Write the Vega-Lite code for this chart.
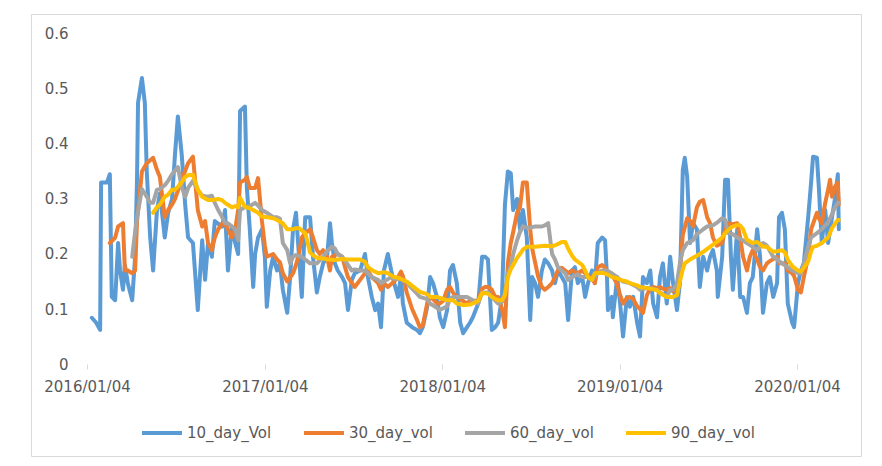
{
"$schema": "https://vega.github.io/schema/vega-lite/v6.json",
"width": 830, "height": 442,
"autosize": {"type": "none"},
"padding": {"left": 31, "top": 14, "right": 21, "bottom": 10},
"background": "white",
"config": {"view": {"stroke": "#d9d9d9", "strokeWidth": 1}, "font": "DejaVu Sans"},
"datasets": {
"vol10": [
{"date":"2016-01-14","v":0.084},{"date":"2016-01-23","v":0.075},{"date":"2016-01-31","v":0.062},{"date":"2016-02-02","v":0.33},{"date":"2016-02-14","v":0.33},{"date":"2016-02-20","v":0.345},{"date":"2016-02-24","v":0.122},{"date":"2016-03-02","v":0.116},{"date":"2016-03-08","v":0.22},{"date":"2016-03-12","v":0.17},{"date":"2016-03-18","v":0.135},{"date":"2016-03-22","v":0.18},{"date":"2016-03-28","v":0.147},{"date":"2016-04-06","v":0.116},{"date":"2016-04-12","v":0.195},{"date":"2016-04-16","v":0.34},{"date":"2016-04-18","v":0.475},{"date":"2016-04-26","v":0.52},{"date":"2016-05-02","v":0.475},{"date":"2016-05-06","v":0.35},{"date":"2016-05-13","v":0.23},{"date":"2016-05-19","v":0.17},{"date":"2016-05-27","v":0.28},{"date":"2016-06-02","v":0.31},{"date":"2016-06-12","v":0.23},{"date":"2016-06-19","v":0.275},{"date":"2016-06-27","v":0.30},{"date":"2016-07-03","v":0.38},{"date":"2016-07-09","v":0.45},{"date":"2016-07-17","v":0.38},{"date":"2016-07-24","v":0.29},{"date":"2016-07-30","v":0.23},{"date":"2016-08-09","v":0.22},{"date":"2016-08-19","v":0.098},{"date":"2016-08-28","v":0.225},{"date":"2016-09-03","v":0.153},{"date":"2016-09-09","v":0.22},{"date":"2016-09-17","v":0.195},{"date":"2016-09-23","v":0.26},{"date":"2016-09-30","v":0.255},{"date":"2016-10-08","v":0.25},{"date":"2016-10-14","v":0.28},{"date":"2016-10-20","v":0.17},{"date":"2016-10-28","v":0.25},{"date":"2016-11-04","v":0.22},{"date":"2016-11-10","v":0.20},{"date":"2016-11-14","v":0.46},{"date":"2016-11-24","v":0.468},{"date":"2016-11-28","v":0.32},{"date":"2016-12-04","v":0.245},{"date":"2016-12-11","v":0.14},{"date":"2016-12-15","v":0.20},{"date":"2016-12-21","v":0.23},{"date":"2016-12-29","v":0.245},
{"date":"2017-01-04","v":0.195},{"date":"2017-01-08","v":0.104},{"date":"2017-01-15","v":0.17},{"date":"2017-01-21","v":0.195},{"date":"2017-01-29","v":0.17},{"date":"2017-02-04","v":0.183},{"date":"2017-02-10","v":0.135},{"date":"2017-02-19","v":0.093},{"date":"2017-02-25","v":0.158},{"date":"2017-03-03","v":0.245},{"date":"2017-03-09","v":0.275},{"date":"2017-03-15","v":0.2},{"date":"2017-03-21","v":0.122},{"date":"2017-03-28","v":0.267},{"date":"2017-04-07","v":0.267},{"date":"2017-04-13","v":0.195},{"date":"2017-04-21","v":0.13},{"date":"2017-04-27","v":0.158},{"date":"2017-05-04","v":0.183},{"date":"2017-05-12","v":0.195},{"date":"2017-05-18","v":0.256},{"date":"2017-05-22","v":0.22},{"date":"2017-05-28","v":0.183},{"date":"2017-06-03","v":0.17},{"date":"2017-06-12","v":0.158},{"date":"2017-06-18","v":0.147},{"date":"2017-06-24","v":0.098},{"date":"2017-07-02","v":0.153},{"date":"2017-07-08","v":0.165},{"date":"2017-07-19","v":0.17},{"date":"2017-07-29","v":0.20},{"date":"2017-08-04","v":0.158},{"date":"2017-08-12","v":0.122},{"date":"2017-08-19","v":0.098},{"date":"2017-08-25","v":0.11},{"date":"2017-08-31","v":0.067},{"date":"2017-09-06","v":0.17},{"date":"2017-09-14","v":0.20},{"date":"2017-09-21","v":0.17},{"date":"2017-09-27","v":0.147},{"date":"2017-10-05","v":0.122},{"date":"2017-10-11","v":0.16},{"date":"2017-10-15","v":0.11},{"date":"2017-10-23","v":0.075},{"date":"2017-11-03","v":0.067},{"date":"2017-11-13","v":0.062},{"date":"2017-11-19","v":0.056},{"date":"2017-11-25","v":0.067},{"date":"2017-12-04","v":0.104},{"date":"2017-12-10","v":0.158},{"date":"2017-12-16","v":0.147},{"date":"2017-12-24","v":0.122},{"date":"2017-12-30","v":0.085},
{"date":"2018-01-06","v":0.067},{"date":"2018-01-14","v":0.098},{"date":"2018-01-20","v":0.17},{"date":"2018-01-26","v":0.18},{"date":"2018-02-03","v":0.147},{"date":"2018-02-10","v":0.075},{"date":"2018-02-16","v":0.056},{"date":"2018-02-24","v":0.067},{"date":"2018-03-02","v":0.075},{"date":"2018-03-08","v":0.085},{"date":"2018-03-19","v":0.11},{"date":"2018-03-27","v":0.195},{"date":"2018-04-02","v":0.195},{"date":"2018-04-08","v":0.19},{"date":"2018-04-16","v":0.062},{"date":"2018-04-23","v":0.067},{"date":"2018-04-29","v":0.075},{"date":"2018-05-07","v":0.122},{"date":"2018-05-13","v":0.29},{"date":"2018-05-19","v":0.35},{"date":"2018-05-25","v":0.347},{"date":"2018-05-30","v":0.28},{"date":"2018-06-07","v":0.30},{"date":"2018-06-13","v":0.245},{"date":"2018-06-19","v":0.28},{"date":"2018-06-27","v":0.23},{"date":"2018-07-04","v":0.08},{"date":"2018-07-08","v":0.158},{"date":"2018-07-14","v":0.147},{"date":"2018-07-20","v":0.122},{"date":"2018-07-28","v":0.17},{"date":"2018-08-03","v":0.19},{"date":"2018-08-10","v":0.183},{"date":"2018-08-18","v":0.17},{"date":"2018-08-24","v":0.147},{"date":"2018-08-30","v":0.17},{"date":"2018-09-07","v":0.158},{"date":"2018-09-14","v":0.147},{"date":"2018-09-20","v":0.08},{"date":"2018-09-28","v":0.17},{"date":"2018-10-04","v":0.176},{"date":"2018-10-10","v":0.147},{"date":"2018-10-19","v":0.158},{"date":"2018-10-25","v":0.122},{"date":"2018-10-31","v":0.147},{"date":"2018-11-08","v":0.17},{"date":"2018-11-14","v":0.147},{"date":"2018-11-20","v":0.22},{"date":"2018-11-29","v":0.23},{"date":"2018-12-05","v":0.225},{"date":"2018-12-09","v":0.158},{"date":"2018-12-11","v":0.098},{"date":"2018-12-19","v":0.122},{"date":"2018-12-21","v":0.085},{"date":"2018-12-30","v":0.158},
{"date":"2019-01-05","v":0.11},{"date":"2019-01-11","v":0.05},{"date":"2019-01-19","v":0.122},{"date":"2019-01-25","v":0.104},{"date":"2019-02-01","v":0.122},{"date":"2019-02-09","v":0.075},{"date":"2019-02-15","v":0.05},{"date":"2019-02-21","v":0.158},{"date":"2019-03-01","v":0.147},{"date":"2019-03-08","v":0.17},{"date":"2019-03-14","v":0.11},{"date":"2019-03-22","v":0.085},{"date":"2019-03-28","v":0.158},{"date":"2019-04-03","v":0.183},{"date":"2019-04-11","v":0.11},{"date":"2019-04-18","v":0.195},{"date":"2019-04-24","v":0.147},{"date":"2019-05-02","v":0.098},{"date":"2019-05-08","v":0.147},{"date":"2019-05-14","v":0.353},{"date":"2019-05-18","v":0.375},{"date":"2019-05-23","v":0.34},{"date":"2019-05-29","v":0.22},{"date":"2019-06-04","v":0.256},{"date":"2019-06-12","v":0.245},{"date":"2019-06-18","v":0.14},{"date":"2019-06-25","v":0.195},{"date":"2019-07-03","v":0.17},{"date":"2019-07-09","v":0.195},{"date":"2019-07-15","v":0.207},{"date":"2019-07-23","v":0.17},{"date":"2019-07-25","v":0.122},{"date":"2019-08-03","v":0.195},{"date":"2019-08-09","v":0.335},{"date":"2019-08-15","v":0.335},{"date":"2019-08-21","v":0.195},{"date":"2019-08-25","v":0.135},{"date":"2019-09-03","v":0.245},{"date":"2019-09-09","v":0.122},{"date":"2019-09-15","v":0.122},{"date":"2019-09-23","v":0.093},{"date":"2019-09-29","v":0.147},{"date":"2019-10-05","v":0.158},{"date":"2019-10-14","v":0.245},{"date":"2019-10-20","v":0.195},{"date":"2019-10-26","v":0.093},{"date":"2019-11-03","v":0.147},{"date":"2019-11-09","v":0.158},{"date":"2019-11-16","v":0.122},{"date":"2019-11-24","v":0.147},{"date":"2019-11-28","v":0.267},{"date":"2019-12-04","v":0.275},{"date":"2019-12-10","v":0.245},{"date":"2019-12-16","v":0.11},{"date":"2019-12-25","v":0.075},{"date":"2019-12-29","v":0.067},
{"date":"2020-01-06","v":0.147},{"date":"2020-01-12","v":0.17},{"date":"2020-01-18","v":0.183},{"date":"2020-01-27","v":0.267},{"date":"2020-02-02","v":0.33},{"date":"2020-02-06","v":0.377},{"date":"2020-02-14","v":0.375},{"date":"2020-02-18","v":0.32},{"date":"2020-02-24","v":0.22},{"date":"2020-03-02","v":0.28},{"date":"2020-03-08","v":0.22},{"date":"2020-03-16","v":0.267},{"date":"2020-03-22","v":0.30},{"date":"2020-03-28","v":0.345},{"date":"2020-03-30","v":0.245}
],
"vol30": [
{"date":"2016-02-20","v":0.22},{"date":"2016-03-02","v":0.23},{"date":"2016-03-08","v":0.25},{"date":"2016-03-18","v":0.256},{"date":"2016-03-22","v":0.17},{"date":"2016-03-28","v":0.17},{"date":"2016-04-06","v":0.165},{"date":"2016-04-12","v":0.17},{"date":"2016-04-16","v":0.26},{"date":"2016-04-26","v":0.35},{"date":"2016-05-06","v":0.365},{"date":"2016-05-19","v":0.375},{"date":"2016-05-27","v":0.353},{"date":"2016-06-02","v":0.34},{"date":"2016-06-12","v":0.267},{"date":"2016-06-19","v":0.28},{"date":"2016-06-27","v":0.29},{"date":"2016-07-03","v":0.30},{"date":"2016-07-17","v":0.335},{"date":"2016-07-30","v":0.365},{"date":"2016-08-09","v":0.377},{"date":"2016-08-19","v":0.28},{"date":"2016-08-28","v":0.25},{"date":"2016-09-03","v":0.26},{"date":"2016-09-09","v":0.22},{"date":"2016-09-17","v":0.207},{"date":"2016-09-23","v":0.23},{"date":"2016-09-30","v":0.245},{"date":"2016-10-08","v":0.255},{"date":"2016-10-14","v":0.255},{"date":"2016-10-20","v":0.245},{"date":"2016-10-28","v":0.23},{"date":"2016-11-04","v":0.245},{"date":"2016-11-10","v":0.28},{"date":"2016-11-14","v":0.33},{"date":"2016-11-24","v":0.335},{"date":"2016-11-28","v":0.34},{"date":"2016-12-04","v":0.32},{"date":"2016-12-15","v":0.32},{"date":"2016-12-21","v":0.338},{"date":"2016-12-29","v":0.26},
{"date":"2017-01-04","v":0.215},{"date":"2017-01-08","v":0.195},{"date":"2017-01-21","v":0.20},{"date":"2017-01-29","v":0.19},{"date":"2017-02-04","v":0.185},{"date":"2017-02-10","v":0.165},{"date":"2017-02-19","v":0.15},{"date":"2017-03-03","v":0.165},{"date":"2017-03-09","v":0.18},{"date":"2017-03-15","v":0.2},{"date":"2017-03-21","v":0.23},{"date":"2017-03-28","v":0.238},{"date":"2017-04-07","v":0.245},{"date":"2017-04-13","v":0.23},{"date":"2017-04-21","v":0.207},{"date":"2017-04-27","v":0.2},{"date":"2017-05-04","v":0.207},{"date":"2017-05-12","v":0.195},{"date":"2017-05-18","v":0.17},{"date":"2017-05-22","v":0.195},{"date":"2017-06-03","v":0.2},{"date":"2017-06-12","v":0.195},{"date":"2017-06-18","v":0.176},{"date":"2017-06-24","v":0.158},{"date":"2017-07-02","v":0.147},{"date":"2017-07-08","v":0.14},{"date":"2017-07-19","v":0.153},{"date":"2017-07-29","v":0.165},{"date":"2017-08-04","v":0.17},{"date":"2017-08-12","v":0.158},{"date":"2017-08-25","v":0.147},{"date":"2017-08-31","v":0.135},{"date":"2017-09-06","v":0.147},{"date":"2017-09-14","v":0.14},{"date":"2017-09-27","v":0.15},{"date":"2017-10-05","v":0.158},{"date":"2017-10-11","v":0.168},{"date":"2017-10-15","v":0.16},{"date":"2017-10-23","v":0.13},{"date":"2017-11-03","v":0.1},{"date":"2017-11-13","v":0.08},{"date":"2017-11-19","v":0.067},{"date":"2017-11-25","v":0.07},{"date":"2017-12-04","v":0.11},{"date":"2017-12-10","v":0.122},{"date":"2017-12-16","v":0.118},{"date":"2017-12-24","v":0.11},{"date":"2017-12-30","v":0.11},
{"date":"2018-01-06","v":0.115},{"date":"2018-01-14","v":0.135},{"date":"2018-01-20","v":0.14},{"date":"2018-01-26","v":0.13},{"date":"2018-02-03","v":0.122},{"date":"2018-02-10","v":0.118},{"date":"2018-02-24","v":0.11},{"date":"2018-03-02","v":0.115},{"date":"2018-03-19","v":0.115},{"date":"2018-03-27","v":0.137},{"date":"2018-04-02","v":0.14},{"date":"2018-04-08","v":0.14},{"date":"2018-04-16","v":0.135},{"date":"2018-04-23","v":0.122},{"date":"2018-04-29","v":0.122},{"date":"2018-05-07","v":0.1},{"date":"2018-05-13","v":0.067},{"date":"2018-05-19","v":0.183},{"date":"2018-05-25","v":0.22},{"date":"2018-05-30","v":0.24},{"date":"2018-06-07","v":0.275},{"date":"2018-06-13","v":0.285},{"date":"2018-06-19","v":0.33},{"date":"2018-06-27","v":0.33},{"date":"2018-07-04","v":0.245},{"date":"2018-07-08","v":0.21},{"date":"2018-07-14","v":0.185},{"date":"2018-07-20","v":0.16},{"date":"2018-07-28","v":0.14},{"date":"2018-08-03","v":0.135},{"date":"2018-08-10","v":0.14},{"date":"2018-08-18","v":0.147},{"date":"2018-08-24","v":0.158},{"date":"2018-08-30","v":0.17},{"date":"2018-09-07","v":0.175},{"date":"2018-09-14","v":0.17},{"date":"2018-09-20","v":0.165},{"date":"2018-09-28","v":0.17},{"date":"2018-10-10","v":0.165},{"date":"2018-10-19","v":0.17},{"date":"2018-10-25","v":0.165},{"date":"2018-10-31","v":0.16},{"date":"2018-11-08","v":0.155},{"date":"2018-11-14","v":0.147},{"date":"2018-11-20","v":0.176},{"date":"2018-11-29","v":0.18},{"date":"2018-12-05","v":0.175},{"date":"2018-12-11","v":0.165},{"date":"2018-12-21","v":0.16},{"date":"2018-12-30","v":0.145},
{"date":"2019-01-05","v":0.125},{"date":"2019-01-11","v":0.11},{"date":"2019-01-19","v":0.12},{"date":"2019-01-25","v":0.122},{"date":"2019-02-01","v":0.118},{"date":"2019-02-09","v":0.105},{"date":"2019-02-15","v":0.1},{"date":"2019-02-21","v":0.093},{"date":"2019-03-01","v":0.125},{"date":"2019-03-08","v":0.138},{"date":"2019-03-14","v":0.14},{"date":"2019-03-22","v":0.138},{"date":"2019-03-28","v":0.14},{"date":"2019-04-03","v":0.137},{"date":"2019-04-11","v":0.135},{"date":"2019-04-18","v":0.138},{"date":"2019-04-24","v":0.132},{"date":"2019-05-02","v":0.135},{"date":"2019-05-08","v":0.17},{"date":"2019-05-14","v":0.235},{"date":"2019-05-23","v":0.265},{"date":"2019-05-29","v":0.26},{"date":"2019-06-04","v":0.25},{"date":"2019-06-12","v":0.285},{"date":"2019-06-18","v":0.295},{"date":"2019-06-25","v":0.298},{"date":"2019-07-03","v":0.267},{"date":"2019-07-09","v":0.256},{"date":"2019-07-15","v":0.23},{"date":"2019-07-23","v":0.215},{"date":"2019-08-03","v":0.22},{"date":"2019-08-09","v":0.245},{"date":"2019-08-15","v":0.256},{"date":"2019-08-25","v":0.254},{"date":"2019-09-03","v":0.256},{"date":"2019-09-09","v":0.23},{"date":"2019-09-15","v":0.195},{"date":"2019-09-23","v":0.17},{"date":"2019-09-29","v":0.195},{"date":"2019-10-05","v":0.207},{"date":"2019-10-14","v":0.19},{"date":"2019-10-20","v":0.176},{"date":"2019-10-26","v":0.17},{"date":"2019-11-03","v":0.183},{"date":"2019-11-09","v":0.187},{"date":"2019-11-24","v":0.195},{"date":"2019-11-28","v":0.183},{"date":"2019-12-10","v":0.183},{"date":"2019-12-16","v":0.17},{"date":"2019-12-25","v":0.165},{"date":"2019-12-29","v":0.16},
{"date":"2020-01-06","v":0.135},{"date":"2020-01-12","v":0.13},{"date":"2020-01-18","v":0.158},{"date":"2020-01-27","v":0.195},{"date":"2020-02-02","v":0.245},{"date":"2020-02-06","v":0.255},{"date":"2020-02-14","v":0.275},{"date":"2020-02-18","v":0.265},{"date":"2020-02-24","v":0.256},{"date":"2020-03-02","v":0.293},{"date":"2020-03-08","v":0.317},{"date":"2020-03-12","v":0.335},{"date":"2020-03-16","v":0.304},{"date":"2020-03-22","v":0.322},{"date":"2020-03-28","v":0.33},{"date":"2020-03-30","v":0.29}
],
"vol60": [
{"date":"2016-04-06","v":0.195},{"date":"2016-04-12","v":0.24},{"date":"2016-04-16","v":0.267},{"date":"2016-04-26","v":0.318},{"date":"2016-05-02","v":0.31},{"date":"2016-05-06","v":0.304},{"date":"2016-05-13","v":0.293},{"date":"2016-05-19","v":0.293},{"date":"2016-05-27","v":0.317},{"date":"2016-06-02","v":0.318},{"date":"2016-06-12","v":0.325},{"date":"2016-06-19","v":0.333},{"date":"2016-06-27","v":0.345},{"date":"2016-07-09","v":0.358},{"date":"2016-07-17","v":0.322},{"date":"2016-07-24","v":0.304},{"date":"2016-07-30","v":0.32},{"date":"2016-08-09","v":0.333},{"date":"2016-08-19","v":0.317},{"date":"2016-08-28","v":0.306},{"date":"2016-09-09","v":0.304},{"date":"2016-09-17","v":0.306},{"date":"2016-09-23","v":0.293},{"date":"2016-09-30","v":0.28},{"date":"2016-10-08","v":0.267},{"date":"2016-10-14","v":0.256},{"date":"2016-10-20","v":0.256},{"date":"2016-10-28","v":0.25},{"date":"2016-11-04","v":0.245},{"date":"2016-11-10","v":0.225},{"date":"2016-11-14","v":0.28},{"date":"2016-11-24","v":0.285},{"date":"2016-12-04","v":0.287},{"date":"2016-12-15","v":0.293},{"date":"2016-12-21","v":0.288},{"date":"2016-12-29","v":0.28},
{"date":"2017-01-08","v":0.275},{"date":"2017-01-21","v":0.267},{"date":"2017-01-29","v":0.267},{"date":"2017-02-04","v":0.264},{"date":"2017-02-10","v":0.22},{"date":"2017-02-19","v":0.207},{"date":"2017-02-25","v":0.183},{"date":"2017-03-03","v":0.195},{"date":"2017-03-09","v":0.198},{"date":"2017-03-21","v":0.195},{"date":"2017-03-28","v":0.19},{"date":"2017-04-07","v":0.183},{"date":"2017-04-21","v":0.183},{"date":"2017-05-04","v":0.195},{"date":"2017-05-12","v":0.205},{"date":"2017-05-22","v":0.213},{"date":"2017-05-28","v":0.21},{"date":"2017-06-03","v":0.2},{"date":"2017-06-12","v":0.195},{"date":"2017-06-24","v":0.18},{"date":"2017-07-02","v":0.17},{"date":"2017-07-08","v":0.172},{"date":"2017-07-19","v":0.17},{"date":"2017-07-29","v":0.17},{"date":"2017-08-12","v":0.158},{"date":"2017-08-25","v":0.153},{"date":"2017-08-31","v":0.147},{"date":"2017-09-06","v":0.15},{"date":"2017-09-21","v":0.158},{"date":"2017-09-27","v":0.155},{"date":"2017-10-11","v":0.155},{"date":"2017-10-23","v":0.148},{"date":"2017-11-03","v":0.137},{"date":"2017-11-13","v":0.128},{"date":"2017-11-19","v":0.122},{"date":"2017-12-04","v":0.118},{"date":"2017-12-10","v":0.11},{"date":"2017-12-24","v":0.102},{"date":"2017-12-30","v":0.098},
{"date":"2018-01-14","v":0.105},{"date":"2018-01-20","v":0.118},{"date":"2018-01-26","v":0.122},{"date":"2018-02-10","v":0.122},{"date":"2018-02-24","v":0.122},{"date":"2018-03-08","v":0.116},{"date":"2018-03-19","v":0.11},{"date":"2018-03-27","v":0.13},{"date":"2018-04-08","v":0.13},{"date":"2018-04-16","v":0.122},{"date":"2018-04-29","v":0.11},{"date":"2018-05-07","v":0.113},{"date":"2018-05-13","v":0.13},{"date":"2018-05-19","v":0.165},{"date":"2018-05-25","v":0.178},{"date":"2018-05-30","v":0.2},{"date":"2018-06-07","v":0.225},{"date":"2018-06-13","v":0.24},{"date":"2018-06-19","v":0.25},{"date":"2018-06-27","v":0.248},{"date":"2018-07-04","v":0.248},{"date":"2018-07-14","v":0.25},{"date":"2018-07-28","v":0.25},{"date":"2018-08-03","v":0.252},{"date":"2018-08-10","v":0.256},{"date":"2018-08-18","v":0.2},{"date":"2018-08-24","v":0.19},{"date":"2018-08-30","v":0.176},{"date":"2018-09-07","v":0.17},{"date":"2018-09-14","v":0.165},{"date":"2018-09-20","v":0.153},{"date":"2018-09-28","v":0.158},{"date":"2018-10-10","v":0.163},{"date":"2018-10-19","v":0.158},{"date":"2018-10-31","v":0.158},{"date":"2018-11-08","v":0.153},{"date":"2018-11-20","v":0.165},{"date":"2018-11-29","v":0.17},{"date":"2018-12-09","v":0.17},{"date":"2018-12-19","v":0.165},{"date":"2018-12-30","v":0.158},
{"date":"2019-01-05","v":0.153},{"date":"2019-01-11","v":0.15},{"date":"2019-01-25","v":0.147},{"date":"2019-02-09","v":0.14},{"date":"2019-02-15","v":0.135},{"date":"2019-03-01","v":0.138},{"date":"2019-03-08","v":0.138},{"date":"2019-03-22","v":0.135},{"date":"2019-03-28","v":0.13},{"date":"2019-04-11","v":0.122},{"date":"2019-04-18","v":0.135},{"date":"2019-04-24","v":0.135},{"date":"2019-05-02","v":0.147},{"date":"2019-05-08","v":0.183},{"date":"2019-05-14","v":0.207},{"date":"2019-05-23","v":0.22},{"date":"2019-06-04","v":0.225},{"date":"2019-06-12","v":0.236},{"date":"2019-06-25","v":0.245},{"date":"2019-07-03","v":0.25},{"date":"2019-07-15","v":0.252},{"date":"2019-07-25","v":0.258},{"date":"2019-08-03","v":0.265},{"date":"2019-08-09","v":0.262},{"date":"2019-08-15","v":0.238},{"date":"2019-08-25","v":0.236},{"date":"2019-09-03","v":0.23},{"date":"2019-09-15","v":0.225},{"date":"2019-09-23","v":0.22},{"date":"2019-10-05","v":0.213},{"date":"2019-10-14","v":0.207},{"date":"2019-10-26","v":0.22},{"date":"2019-11-03","v":0.215},{"date":"2019-11-16","v":0.195},{"date":"2019-11-24","v":0.19},{"date":"2019-12-04","v":0.183},{"date":"2019-12-16","v":0.176},{"date":"2019-12-25","v":0.17},
{"date":"2020-01-06","v":0.165},{"date":"2020-01-12","v":0.165},{"date":"2020-01-18","v":0.183},{"date":"2020-01-27","v":0.213},{"date":"2020-02-02","v":0.23},{"date":"2020-02-14","v":0.238},{"date":"2020-02-24","v":0.245},{"date":"2020-03-08","v":0.258},{"date":"2020-03-16","v":0.272},{"date":"2020-03-22","v":0.285},{"date":"2020-03-28","v":0.293},{"date":"2020-03-30","v":0.293}
],
"vol90": [
{"date":"2016-05-19","v":0.275},{"date":"2016-05-27","v":0.285},{"date":"2016-06-02","v":0.29},{"date":"2016-06-12","v":0.304},{"date":"2016-06-19","v":0.308},{"date":"2016-06-27","v":0.317},{"date":"2016-07-03","v":0.317},{"date":"2016-07-09","v":0.322},{"date":"2016-07-17","v":0.33},{"date":"2016-07-24","v":0.34},{"date":"2016-07-30","v":0.343},{"date":"2016-08-09","v":0.344},{"date":"2016-08-19","v":0.317},{"date":"2016-08-28","v":0.304},{"date":"2016-09-09","v":0.298},{"date":"2016-09-17","v":0.298},{"date":"2016-09-30","v":0.3},{"date":"2016-10-08","v":0.298},{"date":"2016-10-14","v":0.293},{"date":"2016-10-28","v":0.285},{"date":"2016-11-04","v":0.287},{"date":"2016-11-10","v":0.285},{"date":"2016-11-14","v":0.302},{"date":"2016-11-24","v":0.286},{"date":"2016-12-04","v":0.283},{"date":"2016-12-11","v":0.28},{"date":"2016-12-21","v":0.275},{"date":"2016-12-29","v":0.268},
{"date":"2017-01-08","v":0.267},{"date":"2017-01-21","v":0.265},{"date":"2017-01-29","v":0.262},{"date":"2017-02-10","v":0.256},{"date":"2017-02-19","v":0.245},{"date":"2017-03-03","v":0.245},{"date":"2017-03-09","v":0.247},{"date":"2017-03-15","v":0.247},{"date":"2017-03-28","v":0.238},{"date":"2017-04-07","v":0.203},{"date":"2017-04-13","v":0.198},{"date":"2017-04-21","v":0.193},{"date":"2017-05-04","v":0.192},{"date":"2017-05-12","v":0.19},{"date":"2017-05-28","v":0.189},{"date":"2017-06-12","v":0.191},{"date":"2017-06-24","v":0.19},{"date":"2017-07-08","v":0.19},{"date":"2017-07-19","v":0.19},{"date":"2017-07-29","v":0.186},{"date":"2017-08-04","v":0.176},{"date":"2017-08-12","v":0.171},{"date":"2017-08-25","v":0.165},{"date":"2017-09-06","v":0.167},{"date":"2017-09-14","v":0.165},{"date":"2017-09-27","v":0.158},{"date":"2017-10-05","v":0.157},{"date":"2017-10-15","v":0.153},{"date":"2017-10-23","v":0.15},{"date":"2017-11-03","v":0.142},{"date":"2017-11-19","v":0.131},{"date":"2017-12-04","v":0.127},{"date":"2017-12-10","v":0.122},{"date":"2017-12-24","v":0.122},{"date":"2017-12-30","v":0.12},
{"date":"2018-01-14","v":0.116},{"date":"2018-01-26","v":0.116},{"date":"2018-02-03","v":0.11},{"date":"2018-02-16","v":0.107},{"date":"2018-03-02","v":0.108},{"date":"2018-03-08","v":0.11},{"date":"2018-03-19","v":0.115},{"date":"2018-03-27","v":0.129},{"date":"2018-04-08","v":0.128},{"date":"2018-04-16","v":0.122},{"date":"2018-04-29","v":0.116},{"date":"2018-05-07","v":0.116},{"date":"2018-05-13","v":0.125},{"date":"2018-05-19","v":0.158},{"date":"2018-05-25","v":0.172},{"date":"2018-05-30","v":0.18},{"date":"2018-06-07","v":0.193},{"date":"2018-06-13","v":0.2},{"date":"2018-06-19","v":0.208},{"date":"2018-06-27","v":0.213},{"date":"2018-07-14","v":0.213},{"date":"2018-08-03","v":0.215},{"date":"2018-08-18","v":0.214},{"date":"2018-08-30","v":0.218},{"date":"2018-09-07","v":0.222},{"date":"2018-09-14","v":0.222},{"date":"2018-09-20","v":0.21},{"date":"2018-09-28","v":0.197},{"date":"2018-10-04","v":0.19},{"date":"2018-10-19","v":0.18},{"date":"2018-10-25","v":0.17},{"date":"2018-10-31","v":0.158},{"date":"2018-11-08","v":0.153},{"date":"2018-11-14","v":0.165},{"date":"2018-11-29","v":0.166},{"date":"2018-12-09","v":0.163},{"date":"2018-12-19","v":0.158},{"date":"2018-12-30","v":0.156},
{"date":"2019-01-05","v":0.153},{"date":"2019-01-19","v":0.15},{"date":"2019-01-25","v":0.147},{"date":"2019-02-09","v":0.143},{"date":"2019-02-15","v":0.14},{"date":"2019-03-08","v":0.137},{"date":"2019-03-22","v":0.134},{"date":"2019-03-28","v":0.129},{"date":"2019-04-11","v":0.122},{"date":"2019-04-24","v":0.122},{"date":"2019-05-02","v":0.125},{"date":"2019-05-08","v":0.15},{"date":"2019-05-14","v":0.172},{"date":"2019-05-18","v":0.183},{"date":"2019-05-29","v":0.19},{"date":"2019-06-04","v":0.193},{"date":"2019-06-18","v":0.2},{"date":"2019-06-25","v":0.204},{"date":"2019-07-09","v":0.213},{"date":"2019-07-23","v":0.222},{"date":"2019-08-03","v":0.23},{"date":"2019-08-09","v":0.238},{"date":"2019-08-21","v":0.248},{"date":"2019-08-25","v":0.25},{"date":"2019-09-03","v":0.253},{"date":"2019-09-09","v":0.252},{"date":"2019-09-15","v":0.245},{"date":"2019-09-23","v":0.226},{"date":"2019-10-05","v":0.22},{"date":"2019-10-14","v":0.222},{"date":"2019-10-26","v":0.213},{"date":"2019-11-03","v":0.213},{"date":"2019-11-16","v":0.204},{"date":"2019-11-24","v":0.205},{"date":"2019-12-04","v":0.207},{"date":"2019-12-10","v":0.203},{"date":"2019-12-16","v":0.19},{"date":"2019-12-25","v":0.178},
{"date":"2020-01-06","v":0.17},{"date":"2020-01-12","v":0.168},{"date":"2020-01-18","v":0.175},{"date":"2020-01-27","v":0.186},{"date":"2020-02-02","v":0.205},{"date":"2020-02-06","v":0.213},{"date":"2020-02-14","v":0.215},{"date":"2020-02-24","v":0.22},{"date":"2020-03-08","v":0.23},{"date":"2020-03-16","v":0.247},{"date":"2020-03-22","v":0.255},{"date":"2020-03-28","v":0.262},{"date":"2020-03-30","v":0.262}
]
},
"encoding": {
  "x": {"field": "date", "type": "temporal", "title": null,
    "scale": {"type": "utc", "domain": [{"year": 2015, "month": 9, "date": 10, "hours": 18, "minutes": 30, "utc": true}, {"year": 2020, "month": 5, "date": 14, "hours": 16, "utc": true}]},
    "axis": {"values": [{"year": 2016, "month": 1, "date": 4, "utc": true}, {"year": 2017, "month": 1, "date": 4, "utc": true}, {"year": 2018, "month": 1, "date": 4, "utc": true}, {"year": 2019, "month": 1, "date": 4, "utc": true}, {"year": 2020, "month": 1, "date": 4, "utc": true}],
      "format": "%Y/%m/%d", "offset": -92, "domain": false, "grid": false, "ticks": true, "tickColor": "#d9d9d9", "tickSize": 5, "tickWidth": 1,
      "labelPadding": 10, "labelFontSize": 15, "labelColor": "#595959", "labelFont": "DejaVu Sans", "labelOverlap": false, "labelFlush": false, "labelBound": false}},
  "y": {"field": "v", "type": "quantitative", "title": null,
    "scale": {"domain": [-0.16727, 0.63636], "nice": false, "zero": false},
    "axis": {"values": [0, 0.1, 0.2, 0.3, 0.4, 0.5, 0.6], "format": ".1~f", "offset": -40, "domain": false, "grid": false, "ticks": false,
      "labelPadding": 3, "labelFontSize": 15, "labelColor": "#595959", "labelFont": "DejaVu Sans", "labelOverlap": false, "labelFlush": false}}
},
"layer": [
  {"data": {"values": [{}]},
   "mark": {"type": "rule", "color": "#d9d9d9", "strokeWidth": 1.2},
   "encoding": {
     "x": {"datum": {"year": 2016, "month": 1, "date": 4, "utc": true}, "type": "temporal", "title": null},
     "x2": {"datum": {"year": 2020, "month": 4, "date": 7, "hours": 14, "utc": true}},
     "y": {"datum": 0, "type": "quantitative", "title": null}}},
  {"data": {"name": "vol10"},
   "mark": {"type": "line", "strokeWidth": 4, "strokeJoin": "round", "strokeCap": "round"},
   "encoding": {"color": {"datum": "10_day_Vol", "type": "nominal",
     "scale": {"domain": ["10_day_Vol", "30_day_vol", "60_day_vol", "90_day_vol"], "range": ["#5B9BD5", "#ED7D31", "#A5A5A5", "#FFC000"]},
     "legend": {"title": null, "orient": "none", "legendX": 109, "legendY": 397, "direction": "horizontal", "columns": 4, "symbolType": "stroke", "symbolSize": 1600, "symbolStrokeWidth": 4, "labelFontSize": 15, "labelColor": "#595959", "labelFont": "DejaVu Sans", "labelOffset": 3, "columnPadding": 24}}}},
  {"data": {"name": "vol30"},
   "mark": {"type": "line", "strokeWidth": 4, "strokeJoin": "round", "strokeCap": "round"},
   "encoding": {"color": {"datum": "30_day_vol", "type": "nominal"}}},
  {"data": {"name": "vol60"},
   "mark": {"type": "line", "strokeWidth": 4, "strokeJoin": "round", "strokeCap": "round"},
   "encoding": {"color": {"datum": "60_day_vol", "type": "nominal"}}},
  {"data": {"name": "vol90"},
   "mark": {"type": "line", "strokeWidth": 4, "strokeJoin": "round", "strokeCap": "round"},
   "encoding": {"color": {"datum": "90_day_vol", "type": "nominal"}}}
]
}
